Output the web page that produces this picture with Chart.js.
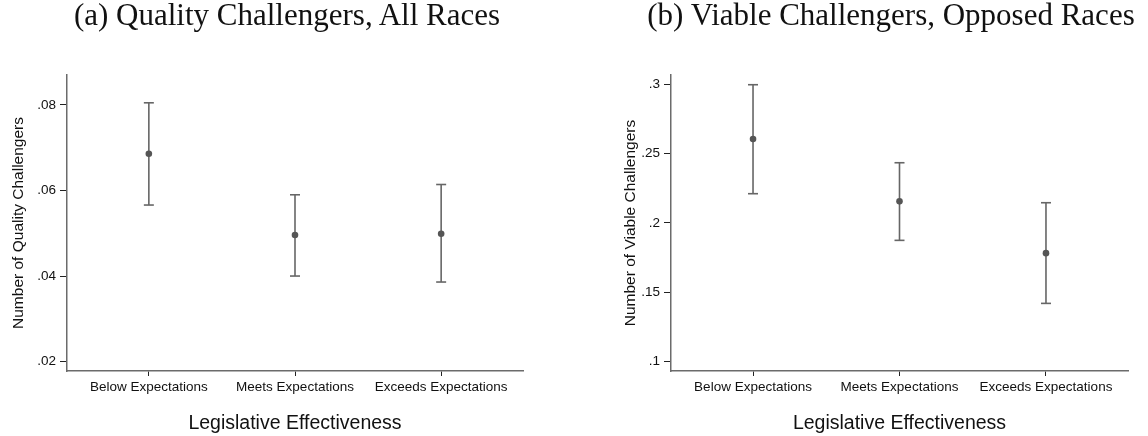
<!DOCTYPE html>
<html>
<head>
<meta charset="utf-8">
<script src="https://cdn.jsdelivr.net/npm/chart.js@4/dist/chart.umd.min.js"></script>
<style>
  html, body { margin: 0; padding: 0; background: #fff; }
  body { width: 1148px; height: 436px; position: relative; overflow: hidden; }
  .panel { position: absolute; top: 0; width: 574px; height: 436px; }
  .ptitle {
    position: absolute; top: -1px; white-space: nowrap;
    font-family: "Liberation Serif", "Times New Roman", serif;
    font-size: 31px; line-height: 31px; color: #111;
    transform: translateX(-50%);
  }
</style>
</head>
<body>
<div class="panel" style="left:0"><canvas id="chartA" width="574" height="436"></canvas></div>
<div class="panel" style="left:574px"><canvas id="chartB" width="574" height="436"></canvas></div>
<div class="ptitle" style="left:287px">(a) Quality Challengers, All Races</div>
<div class="ptitle" style="left:891px">(b) Viable Challengers, Opposed Races</div>
<script>
// --- DATA ---
const categories = ['Below Expectations', 'Meets Expectations', 'Exceeds Expectations'];

// (a) Quality challengers, all races
const meanA = [0.0686, 0.0496, 0.0499];
const lowA  = [0.0566, 0.0400, 0.0386];
const highA = [0.0805, 0.0590, 0.0614];
const yTicksA = [0.02, 0.04, 0.06, 0.08];

// (b) Viable challengers, opposed races
const meanB = [0.2604, 0.2155, 0.1782];
const lowB  = [0.2210, 0.1874, 0.1420];
const highB = [0.2995, 0.2433, 0.2145];
const yTicksB = [0.1, 0.15, 0.2, 0.25, 0.3];

const xTitle = 'Legislative Effectiveness';

// --- HELPERS ---
const sans = '"Liberation Sans", Arial, Helvetica, sans-serif';
const dotColor = '#555555';
const barColor = '#666666';

// Stata style labels: .08 instead of 0.08
function stataNum(v) {
    return String(+v.toFixed(3)).replace(/^0\./, '.');
}

function makePanel(id, opts) {
    const pts = (vals) => vals.map((v, i) => ({ x: i, y: v }));

    // one vertical stem per category
    const stems = categories.map((c, i) => ({
        type: 'scatter',
        showLine: true,
        data: [{ x: i, y: opts.low[i] }, { x: i, y: opts.high[i] }],
        borderColor: barColor,
        borderWidth: 1.6,
        pointRadius: 0
    }));

    new Chart(document.getElementById(id).getContext('2d'), {
        type: 'scatter',
        data: {
            datasets: [
                {
                    data: pts(opts.mean),
                    pointRadius: 3.3,
                    pointBackgroundColor: dotColor,
                    pointBorderColor: dotColor,
                    pointBorderWidth: 0
                },
                {
                    data: pts(opts.low).concat(pts(opts.high)),
                    pointStyle: 'line',
                    pointRadius: 5,
                    pointBorderColor: barColor,
                    pointBorderWidth: 1.6
                },
                ...stems
            ]
        },
        options: {
            responsive: false,
            animation: false,
            layout: { padding: { top: 75, right: opts.padRight, bottom: 0, left: opts.padLeft } },
            plugins: { legend: { display: false }, tooltip: { enabled: false } },
            scales: {
                x: {
                    type: 'linear',
                    min: -0.56,
                    max: 2.56,
                    afterBuildTicks: (s) => { s.ticks = categories.map((c, i) => ({ value: i })); },
                    afterFit: (s) => { s.height = 65; },
                    ticks: {
                        callback: (v) => categories[v],
                        color: '#111',
                        font: { family: sans, size: 13.5 },
                        padding: 3,
                        maxRotation: 0,
                        autoSkip: false
                    },
                    grid: { drawOnChartArea: false, drawTicks: true, tickLength: 5, tickColor: '#222', tickWidth: 1 },
                    border: { display: true, color: '#6b6b6b', width: 1.5 },
                    title: {
                        display: true,
                        text: xTitle,
                        color: '#111',
                        font: { family: sans, size: 19.5 },
                        padding: { top: 0, bottom: 1 }
                    }
                },
                y: {
                    min: opts.yMin,
                    max: opts.yMax,
                    afterBuildTicks: (s) => { s.ticks = opts.yTicks.map(v => ({ value: v })); },
                    afterFit: (s) => { s.width = opts.yWidth; },
                    ticks: {
                        callback: (v) => stataNum(v),
                        color: '#111',
                        font: { family: sans, size: 13.5 },
                        padding: 4
                    },
                    grid: { drawOnChartArea: false, drawTicks: true, tickLength: 7, tickColor: '#222', tickWidth: 1 },
                    border: { display: true, color: '#6b6b6b', width: 1.5 },
                    title: {
                        display: true,
                        text: opts.yTitle,
                        color: '#111',
                        font: { family: sans, size: 15.5 },
                        padding: { top: 9, bottom: 0 }
                    }
                }
            }
        }
    });
}

// --- PANELS ---
makePanel('chartA', {
    mean: meanA, low: lowA, high: highA, yTicks: yTicksA,
    yMin: 0.0178, yMax: 0.087,
    yTitle: 'Number of Quality Challengers',
    yWidth: 67, padLeft: 0, padRight: 51
});

makePanel('chartB', {
    mean: meanB, low: lowB, high: highB, yTicks: yTicksB,
    yMin: 0.0933, yMax: 0.3065,
    yTitle: 'Number of Viable Challengers',
    yWidth: 59, padLeft: 38, padRight: 20
});
</script>
</body>
</html>
